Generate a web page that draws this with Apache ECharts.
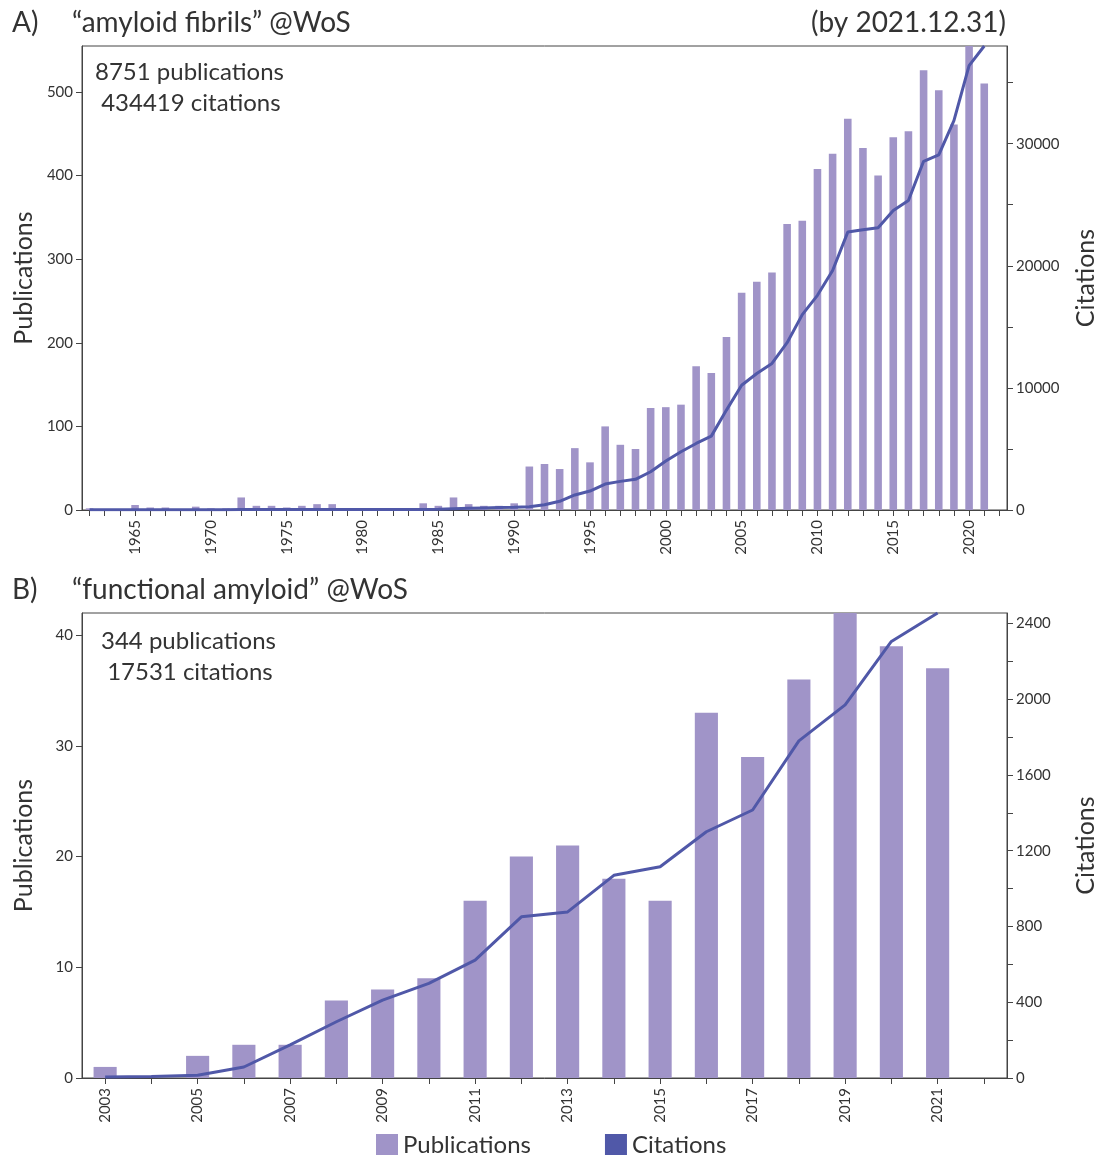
<!DOCTYPE html>
<html>
<head>
<meta charset="utf-8">
<script src="https://cdn.jsdelivr.net/npm/echarts@6/dist/echarts.min.js"></script>
<style>
html,body{margin:0;padding:0;background:#fff;overflow:hidden;}
#chart{width:1094px;height:1155px;}
</style>
</head>
<body>
<div id="chart"></div>
<script>
// ---- Data: panel A ("amyloid fibrils" @WoS) ----
const yearsA = [1962,1963,1964,1965,1966,1967,1968,1969,1970,1971,1972,1973,1974,1975,1976,1977,1978,1979,1980,1981,1982,1983,1984,1985,1986,1987,1988,1989,1990,1991,1992,1993,1994,1995,1996,1997,1998,1999,2000,2001,2002,2003,2004,2005,2006,2007,2008,2009,2010,2011,2012,2013,2014,2015,2016,2017,2018,2019,2020,2021,2022];
const pubsA = [2,1,1,6,3,3,1,4,2,2,15,5,5,3,5,7,7,2,2,2,2,2,8,5,15,7,5,5,8,52,55,49,74,57,100,78,73,122,123,126,172,164,207,260,273,284,342,346,408,426,468,433,400,446,453,526,502,461,600,510,null];
const citesA = [20,20,25,25,25,30,30,30,30,30,35,35,35,35,40,40,40,40,40,45,45,50,50,60,100,140,170,200,220,270,435,710,1230,1550,2125,2345,2510,3135,4005,4770,5450,6050,8180,10220,11180,12000,13700,16000,17580,19620,22760,22950,23110,24530,25350,28560,29080,31890,36390,38000,null];

// ---- Data: panel B ("functional amyloid" @WoS) ----
const yearsB = [2003,2004,2005,2006,2007,2008,2009,2010,2011,2012,2013,2014,2015,2016,2017,2018,2019,2020,2021,2022];
const pubsB = [1,0,2,3,3,7,8,9,16,20,21,18,16,33,29,36,44,39,37,null];
const citesB = [5,8,15,58,175,297,411,500,622,851,877,1070,1115,1300,1415,1780,1970,2305,2455,null];

// ---- Text ----
const titleA = '\u201Camyloid fibrils\u201D @WoS';
const titleB = '\u201Cfunctional amyloid\u201D @WoS';
const dateNote = '(by 2021.12.31)';
const noteA = ['8751 publications', ' 434419 citations'];
const noteB = ['344 publications', ' 17531 citations'];

const FONT = 'Lato, "Open Sans", sans-serif';
const TXT = '#333';
const AX = '#444';
const BAR = '#a094c8';
const LINE = '#5058a8';

const chart = echarts.init(document.getElementById('chart'), null, {renderer: 'canvas', width: 1094, height: 1155});

function titleItem(text, left, top, size, extra) {
  return Object.assign({
    text: text, left: left, top: top, padding: 0,
    textStyle: {fontFamily: FONT, fontSize: size, fontWeight: 'normal', color: TXT}
  }, extra || {});
}

function xAxisCfg(grid, data, labelInterval) {
  return {
    type: 'category', gridIndex: grid, data: data, boundaryGap: true,
    axisLine: {show: true, lineStyle: {color: AX, width: 1}},
    axisTick: {show: true, interval: 0, alignWithLabel: true, length: 6, lineStyle: {color: AX}},
    axisLabel: {interval: labelInterval, rotate: 90, fontSize: 15, color: TXT, fontFamily: FONT, margin: 10},
    splitLine: {show: false}
  };
}

function yAxisCfg(grid, pos, max, interval, labelStep, name, nameGap) {
  return {
    type: 'value', gridIndex: grid, position: pos, min: 0, max: max, interval: interval,
    name: name, nameLocation: 'middle', nameGap: nameGap, nameRotate: 90,
    nameTextStyle: {fontFamily: FONT, fontSize: 25, color: TXT},
    axisLine: {show: true, lineStyle: {color: AX, width: 1}},
    axisTick: {show: true, inside: false, length: 6, lineStyle: {color: AX}},
    axisLabel: {
      fontSize: 15, color: TXT, fontFamily: FONT, margin: 9, showMaxLabel: false,
      formatter: function (v) { return (v % labelStep === 0) ? String(v) : ''; }
    },
    splitLine: {show: false}
  };
}

const option = {
  animation: false,
  backgroundColor: '#fff',
  title: [
    titleItem('A)', 12, 9, 28),
    titleItem(titleA, 72, 9, 28),
    titleItem(dateNote, null, 9, 28, {right: 88}),
    titleItem(noteA[0], 95, 60, 24),
    titleItem(noteA[1], 95, 91, 24),
    titleItem('B)', 12, 576, 28),
    titleItem(titleB, 72, 576, 28),
    titleItem(noteB[0], 101, 629, 24),
    titleItem(noteB[1], 101, 660, 24)
  ],
  legend: {
    left: 376, top: 1133, itemWidth: 22, itemHeight: 22, itemGap: 74, padding: 0,
    textStyle: {fontFamily: FONT, fontSize: 24, color: TXT},
    data: [
      {name: 'Publications', icon: 'rect', itemStyle: {color: BAR}},
      {name: 'Citations', icon: 'rect', itemStyle: {color: LINE}}
    ]
  },
  grid: [
    {left: 82, right: 87, top: 46, height: 464, show: true, borderColor: AX, borderWidth: 1, backgroundColor: 'transparent', containLabel: false, outerBoundsMode: 'none'},
    {left: 82, right: 87, top: 613, height: 465, show: true, borderColor: AX, borderWidth: 1, backgroundColor: 'transparent', containLabel: false, outerBoundsMode: 'none'}
  ],
  xAxis: [
    xAxisCfg(0, yearsA, function (idx, val) { return Number(val) % 5 === 0; }),
    xAxisCfg(1, yearsB, 1)
  ],
  yAxis: [
    yAxisCfg(0, 'left', 555, 100, 100, 'Publications', 46),
    yAxisCfg(0, 'right', 38000, 5000, 10000, 'Citations', 66),
    yAxisCfg(1, 'left', 42, 10, 10, 'Publications', 46),
    yAxisCfg(1, 'right', 2455, 200, 400, 'Citations', 66)
  ],
  series: [
    {name: 'Publications', type: 'bar', xAxisIndex: 0, yAxisIndex: 0, data: pubsA, barWidth: '50%', itemStyle: {color: BAR}},
    {name: 'Citations', type: 'line', xAxisIndex: 0, yAxisIndex: 1, data: citesA, showSymbol: false, symbol: 'none', clip: true,
      lineStyle: {color: LINE, width: 3}, itemStyle: {color: LINE}},
    {name: 'Publications', type: 'bar', xAxisIndex: 1, yAxisIndex: 2, data: pubsB, barWidth: '50%', itemStyle: {color: BAR}},
    {name: 'Citations', type: 'line', xAxisIndex: 1, yAxisIndex: 3, data: citesB, showSymbol: false, symbol: 'none', clip: true,
      lineStyle: {color: LINE, width: 3}, itemStyle: {color: LINE}}
  ]
};
chart.setOption(option);
</script>
</body>
</html>
